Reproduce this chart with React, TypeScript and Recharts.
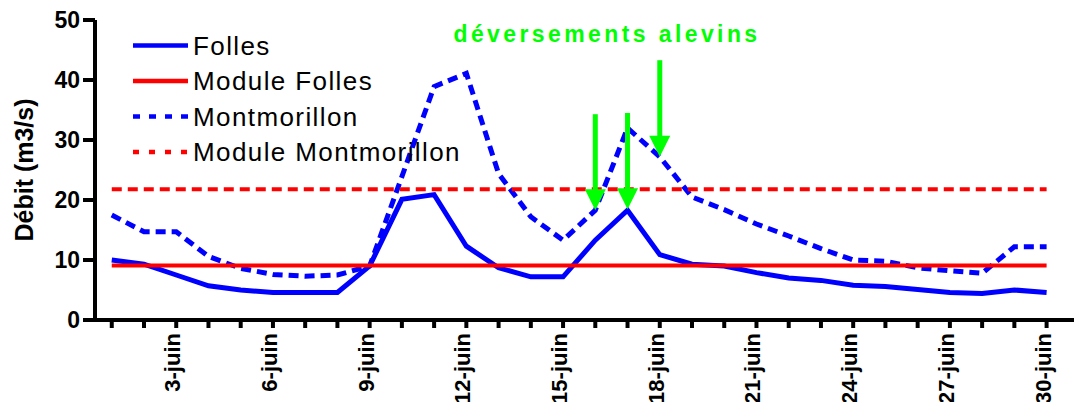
import * as React from 'react';
import { LineChart, Line, XAxis, YAxis, ReferenceLine } from 'recharts';

const days = [1, 2, 3, 4, 5, 6, 7, 8, 9, 10, 11, 12, 13, 14, 15, 16, 17, 18, 19, 20, 21, 22, 23, 24, 25, 26, 27, 28, 29, 30];
const folles = [10.0, 9.3, 7.5, 5.7, 5.0, 4.6, 4.6, 4.6, 9.0, 20.1, 20.9, 12.3, 8.7, 7.2, 7.2, 13.3, 18.3, 10.9, 9.3, 9.0, 7.9, 7.0, 6.6, 5.8, 5.6, 5.1, 4.6, 4.4, 5.0, 4.6];
const montmorillon = [17.5, 14.7, 14.7, 10.6, 8.6, 7.6, 7.3, 7.5, 9.0, 23.9, 38.9, 41.1, 24.4, 17.2, 13.3, 18.3, 32.0, 27.2, 20.5, 18.4, 16.0, 14.0, 11.9, 10.0, 9.8, 8.7, 8.2, 7.8, 12.2, 12.2];
const moduleFolles = 9.1;
const moduleMontmorillon = 21.8;

const labelledDays = [3, 6, 9, 12, 15, 18, 21, 24, 27, 30];
const dayLabels = ['3-juin', '6-juin', '9-juin', '12-juin', '15-juin', '18-juin', '21-juin', '24-juin', '27-juin', '30-juin'];
const yTicks = [0, 10, 20, 30, 40, 50];

// fish releases: arrow day, top of the shaft, tip (in data units)
const arrowDays = [16, 17, 18];
const arrowTops = [34.3, 34.5, 43.3];
const arrowTips = [18.3, 18.45, 27.2];

const legendNames = ['Folles', 'Module Folles', 'Montmorillon', 'Module Montmorillon'];

const BLUE = '#0000ff';
const RED = '#ff0000';
const GREEN = '#00ff00';
const FONT = '"Liberation Sans", Arial, sans-serif';

const legendStyles = [
  { color: BLUE, dash: undefined },
  { color: RED, dash: undefined },
  { color: BLUE, dash: '7 9' },
  { color: RED, dash: '6 10' },
];

const chartData = days.map((day, i) => ({
  day,
  folles: folles[i],
  montmorillon: montmorillon[i],
}));

function DayTick(props: any) {
  const { x, y, payload } = props;
  const idx = labelledDays.indexOf(payload.value);
  if (idx < 0) return null;
  const bx = x + 4;
  return (
    <text
      x={bx}
      y={y}
      transform={`rotate(-90 ${bx} ${y})`}
      textAnchor="end"
      fill="#000"
      fontSize={22}
      fontWeight={700}
      fontFamily={FONT}
    >
      {dayLabels[idx]}
    </text>
  );
}

function Arrow(props: any) {
  const { x1, y1, x2, y2 } = props;
  const head = 21;
  return (
    <g>
      <line x1={x1} y1={y1} x2={x2} y2={y2 - head + 2} stroke={GREEN} strokeWidth={5} />
      <polygon points={`${x2 - 10.5},${y2 - head} ${x2 + 10.5},${y2 - head} ${x2},${y2}`} fill={GREEN} />
    </g>
  );
}

export default function App() {
  return (
    <div style={{ position: 'relative', width: 1074, height: 402, background: '#fff' }}>
      <style>{'body{margin:0}'}</style>
      <LineChart
        width={1074}
        height={402}
        data={chartData}
        margin={{ top: 20, right: 0, left: 0, bottom: 0 }}
        style={{ fontFamily: FONT }}
      >
        <XAxis
          dataKey="day"
          type="number"
          domain={[0.48, 30.85]}
          allowDataOverflow
          ticks={days}
          interval={0}
          tick={<DayTick />}
          tickSize={8}
          tickMargin={5}
          height={82}
          axisLine={{ stroke: '#000', strokeWidth: 4 }}
          tickLine={{ stroke: '#000', strokeWidth: 4 }}
        />
        <YAxis
          domain={[0, 50]}
          ticks={yTicks}
          width={95}
          tickSize={12}
          tickMargin={3}
          axisLine={{ stroke: '#000', strokeWidth: 4 }}
          tickLine={{ stroke: '#000', strokeWidth: 4 }}
          tick={{ fill: '#000', fontSize: 23, fontWeight: 700, fontFamily: FONT }}
          label={({ viewBox }: any) => {
            const cx = viewBox.x + 33;
            const cy = viewBox.y + viewBox.height / 2;
            return (
              <text
                x={cx}
                y={cy}
                transform={`rotate(-90 ${cx} ${cy})`}
                textAnchor="middle"
                fill="#000"
                fontSize={25}
                fontWeight={700}
                fontFamily={FONT}
              >
                Débit (m3/s)
              </text>
            );
          }}
        />
        <Line type="linear" dataKey="folles" stroke={BLUE} strokeWidth={5} dot={false} isAnimationActive={false} />
        <Line
          type="linear"
          dataKey="montmorillon"
          stroke={BLUE}
          strokeWidth={5}
          strokeDasharray="10 6"
          dot={false}
          isAnimationActive={false}
        />
        <ReferenceLine
          segment={[{ x: days[0], y: moduleFolles }, { x: days[days.length - 1], y: moduleFolles }]}
          stroke={RED}
          strokeWidth={4}
          ifOverflow="visible"
        />
        <ReferenceLine
          segment={[{ x: days[0], y: moduleMontmorillon }, { x: days[days.length - 1], y: moduleMontmorillon }]}
          stroke={RED}
          strokeWidth={4}
          strokeDasharray="10 6"
          ifOverflow="visible"
        />
        {arrowDays.map((d, i) => (
          <ReferenceLine
            key={d}
            segment={[{ x: d, y: arrowTops[i] }, { x: d, y: arrowTips[i] }]}
            ifOverflow="visible"
            shape={<Arrow />}
          />
        ))}
      </LineChart>
      <svg
        width={1074}
        height={402}
        style={{ position: 'absolute', left: 0, top: 0, pointerEvents: 'none' }}
      >
        <text
          x={607}
          y={42}
          textAnchor="middle"
          fill={GREEN}
          fontSize={23}
          fontWeight={700}
          letterSpacing={3.4}
          fontFamily={FONT}
        >
          déversements alevins
        </text>
        {legendNames.map((name, i) => {
          const ly = 45.5 + i * 35.5;
          const s = legendStyles[i];
          return (
            <g key={name}>
              <line x1={133} y1={ly} x2={188} y2={ly} stroke={s.color} strokeWidth={4.5} strokeDasharray={s.dash} />
              <text x={193} y={ly + 9.4} fill="#000" fontSize={26} letterSpacing={1.4} fontFamily={FONT}>
                {name}
              </text>
            </g>
          );
        })}
      </svg>
    </div>
  );
}
